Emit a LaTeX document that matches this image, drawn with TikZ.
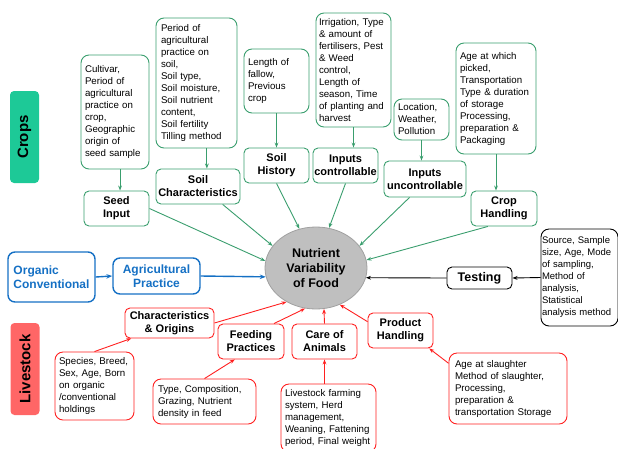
\documentclass[tikz,border=0pt]{standalone}
\usepackage{fontspec}
\setmainfont{Liberation Sans}
\definecolor{NVgreen}{HTML}{3A9E6E}
\definecolor{NVteal}{HTML}{1DC997}
\definecolor{NVred}{HTML}{FF2020}
\definecolor{NVsalmon}{HTML}{FF6666}
\definecolor{NVblue}{HTML}{1570C4}
\definecolor{NVgrey}{HTML}{BFBFBF}
\definecolor{NVgreyd}{HTML}{A0A0A0}
\usetikzlibrary{arrows.meta, positioning, shapes.geometric}

\begin{document}
\begin{tikzpicture}[
      x=1pt, y=-1pt,
      every node/.style={align=center, inner sep=1pt},
      det/.style={draw, rounded corners=8pt, align=left, inner xsep=4pt, inner ysep=2pt,
                  line width=0.9pt, font=\fontsize{9.7}{12}\selectfont},
      lab/.style={draw, rounded corners=5pt, line width=0.9pt, font=\fontsize{11}{13}\selectfont\bfseries},
      side/.style={rounded corners=4pt, rotate=90, minimum width=92pt, minimum height=29pt,
                   font=\fontsize{15}{17}\selectfont\bfseries},
      garr/.style={-{Stealth[length=5pt]}, line width=0.9pt, NVgreen},
      rarr/.style={-{Stealth[length=5pt]}, line width=0.9pt, NVred},
      barr/.style={-{Stealth[length=6pt]}, line width=1.4pt, NVblue},
      karr/.style={-{Stealth[length=5pt]}, line width=0.9pt, black}
   ]
      \useasboundingbox (0,0) rectangle (618,448);

      % centre
      \node (nut) [ellipse, draw=NVgreyd, fill=NVgrey, line width=0.8pt, inner sep=0pt,
                   minimum width=102pt, minimum height=82pt,
                   font=\fontsize{12.5}{15}\selectfont\bfseries] at (316,268) {Nutrient\\Variability\\of Food};

      % side tags
      \node (crops) [side, fill=NVteal] at (24.5,137) {Crops};
      \node (stock) [side, fill=NVsalmon] at (25,369) {Livestock};

      % crops
      \node (seeddet) [det, draw=NVgreen, text width=60pt, minimum height=114pt] at (115,112)
         {Cultivar,\\Period of\\agricultural\\practice on\\crop,\\Geographic\\origin of\\seed sample};
      \node (soildet) [det, draw=NVgreen, text width=71pt, inner xsep=5pt, minimum height=130pt] at (196.5,83)
         {Period of\\agricultural\\practice on\\soil,\\Soil type,\\Soil moisture,\\Soil nutrient\\content,\\Soil fertility\\Tilling method};
      \node (histdet) [det, draw=NVgreen, text width=57pt, minimum height=64pt] at (276.5,81)
         {Length of\\fallow,\\Previous\\crop};
      \node (ctrldet) [det, draw=NVgreen, text width=69pt, inner xsep=3pt, minimum height=114pt] at (353.5,70)
         {Irrigation, Type\\\& amount of\\fertilisers, Pest\\\& Weed\\control,\\Length of\\season, Time\\of planting and\\harvest};
      \node (locdet) [det, draw=NVgreen, text width=47pt, minimum height=41pt] at (421.5,119.5)
         {Location,\\Weather,\\Pollution};
      \node (cropdet) [det, draw=NVgreen, text width=72pt, minimum height=111pt] at (496,98.5)
         {Age at which\\picked,\\Transportation\\Type \& duration\\of storage\\Processing,\\preparation \&\\Packaging};

      \node (seed) [lab, draw=NVgreen, minimum width=65pt, minimum height=35pt] at (116.5,208.5) {Seed\\Input};
      \node (soil) [lab, draw=NVgreen, minimum width=84pt, minimum height=35pt] at (198,186.5) {Soil\\Characteristics};
      \node (hist) [lab, draw=NVgreen, minimum width=65pt, minimum height=35pt] at (276.5,165.5) {Soil\\History};
      \node (ctrl) [lab, draw=NVgreen, minimum width=65pt, minimum height=35pt] at (345.5,165.5) {Inputs\\controllable};
      \node (unctrl) [lab, draw=NVgreen, minimum width=82pt, minimum height=36pt] at (425,179) {Inputs\\uncontrollable};
      \node (crop) [lab, draw=NVgreen, minimum width=66pt, minimum height=35pt] at (504,208.5) {Crop\\Handling};

      \draw[garr] (seeddet.-85) -- (seeddet.-85 |- seed.north);
      \draw[garr] (soildet.-81) -- (soildet.-81 |- soil.north);
      \draw[garr] (histdet.south) -- (histdet.south |- hist.north);
      \draw[garr] (ctrldet.south) -- (ctrldet.south |- ctrl.north);
      \draw[garr] (locdet.south) -- (locdet.south |- unctrl.north);
      \draw[garr] (cropdet.south) -- (cropdet.south |- crop.north);

      \draw[garr] (seed.east) -- (nut.172);
      \draw[garr] (soil.-36) -- (nut.153);
      \draw[garr] (hist.south) -- (nut.113);
      \draw[garr] (ctrl.south) -- (nut.72);
      \draw[garr] (unctrl.230) -- (nut.27);
      \draw[garr] (crop.228) -- (nut.9);

      % practice
      \node (org) [lab, draw=NVblue, text=NVblue, line width=1.4pt, rounded corners=7pt, align=left,
                   minimum width=87pt, minimum height=50pt, font=\fontsize{12}{14.5}\selectfont\bfseries]
                   at (51.5,277) {Organic\\Conventional};
      \node (agri) [lab, draw=NVblue, text=NVblue, line width=1.4pt, rounded corners=7pt,
                    minimum width=87pt, minimum height=36pt, font=\fontsize{12}{14.5}\selectfont\bfseries]
                    at (156.5,276) {Agricultural\\Practice};
      \draw[barr] (org.east) -- (agri.west);
      \draw[barr] (agri.east) -- (nut.190);

      % testing
      \node (test) [lab, draw=black, minimum width=65pt, minimum height=22pt,
                    font=\fontsize{12.5}{15}\selectfont\bfseries] at (479.5,278) {Testing};
      \node (testdet) [det, draw=black, text width=75pt, inner xsep=1pt, minimum height=97pt,
                       font=\fontsize{9.5}{12}\selectfont] at (579.5,277.5)
         {Source, Sample\\size, Age, Mode\\of sampling,\\Method of\\analysis,\\Statistical\\analysis method};
      \draw[karr] (testdet.west) -- (test.east);
      \draw[karr] (test.west) -- (nut.349);

      % livestock
      \node (chars) [lab, draw=NVred, minimum width=89pt, minimum height=30pt] at (169.5,323) {Characteristics\\\& Origins};
      \node (feed) [lab, draw=NVred, minimum width=66pt, minimum height=35pt] at (251,341.5) {Feeding\\Practices};
      \node (care) [lab, draw=NVred, minimum width=65pt, minimum height=35pt] at (324.5,341.5) {Care of\\Animals};
      \node (prod) [lab, draw=NVred, minimum width=65pt, minimum height=35pt] at (400.5,330.5) {Product\\Handling};

      \node (specdet) [det, draw=NVred, text width=71pt, minimum height=68pt] at (94.5,386)
         {Species, Breed,\\Sex, Age, Born\\on organic\\/conventional\\holdings};
      \node (typedet) [det, draw=NVred, text width=93pt, inner xsep=5pt, minimum height=45pt] at (204.5,401.5)
         {Type, Composition,\\Grazing, Nutrient\\density in feed};
      \node (livdet) [det, draw=NVred, text width=87pt, minimum height=68pt] at (328.5,418)
         {Livestock farming\\system, Herd\\management,\\Weaning, Fattening\\period, Final weight};
      \node (slaudet) [det, draw=NVred, text width=106pt, inner xsep=6pt, minimum height=71pt] at (508,388.5)
         {Age at slaughter\\Method of slaughter,\\Processing,\\preparation \&\\transportation Storage};

      \draw[rarr] (specdet.north) -- (chars.202);
      \draw[rarr] (typedet.north) -- (feed.228);
      \draw[rarr] (care.south |- livdet.north) -- (care.south);
      \draw[rarr] (slaudet.157) -- (prod.-32);

      \draw[rarr] (chars.east) -- (nut.229);
      \draw[rarr] (feed.38) -- (nut.255);
      \draw[rarr] (care.north) -- (nut.281);
      \draw[rarr] (prod.165) -- (nut.303);
   \end{tikzpicture}
\end{document}
